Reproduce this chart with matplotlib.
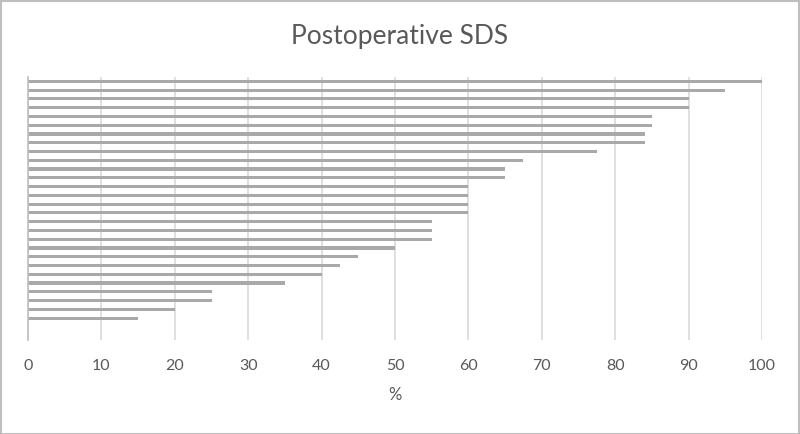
import numpy as np
import matplotlib
matplotlib.use('Agg')
from matplotlib import pyplot as plt
from matplotlib.patches import Rectangle

# values per patient, top to bottom (last two slots are empty in the source chart)
sds_values = [100, 95, 90, 90, 85, 85, 84, 84, 77.5, 67.5, 65, 65,
              60, 60, 60, 60, 55, 55, 55, 50, 45, 42.5, 40, 35,
              25, 25, 20, 15, np.nan, np.nan]
x_ticks = [0, 10, 20, 30, 40, 50, 60, 70, 80, 90, 100]
title = 'Postoperative SDS'
xlabel = '%'

plt.rcParams['font.family'] = ['Lato', 'DejaVu Sans']
text_color = '#595959'
grid_color = '#d9d9d9'

fig = plt.figure(figsize=(8, 4.34), dpi=100)
fig.patch.set_facecolor('w')
ax = fig.add_axes([0.035, 0.2166, 0.9175, 0.606])

pos = np.arange(len(sds_values))
ax.barh(pos, sds_values, height=0.36, color='#a9a9a9', zorder=3)
ax.set_ylim(len(sds_values) - 0.5, -0.5)
ax.set_xlim(0, 100)

ax.set_xticks(x_ticks)
ax.set_yticks([])
ax.grid(axis='x', color=grid_color, lw=1.2, zorder=0)
for s in ['top', 'right', 'bottom']:
    ax.spines[s].set_visible(False)
ax.spines['left'].set_color('#bfbfbf')
ax.spines['left'].set_linewidth(1.2)
ax.spines['left'].set_zorder(4)
ax.tick_params(axis='x', length=0, pad=14, labelsize=11.5, labelcolor=text_color)

ax.set_xlabel(xlabel, fontsize=12, color=text_color, labelpad=10)
fig.text(0.5, 0.915, title, ha='center', va='center', fontsize=19, color=text_color)

# chart border
fig.patches.append(Rectangle((0.001, 0.001), 0.998, 0.997, transform=fig.transFigure,
                             fill=False, edgecolor='#bfbfbf', lw=1.5))

plt.savefig('out.png', dpi=100)
plt.close('all')
